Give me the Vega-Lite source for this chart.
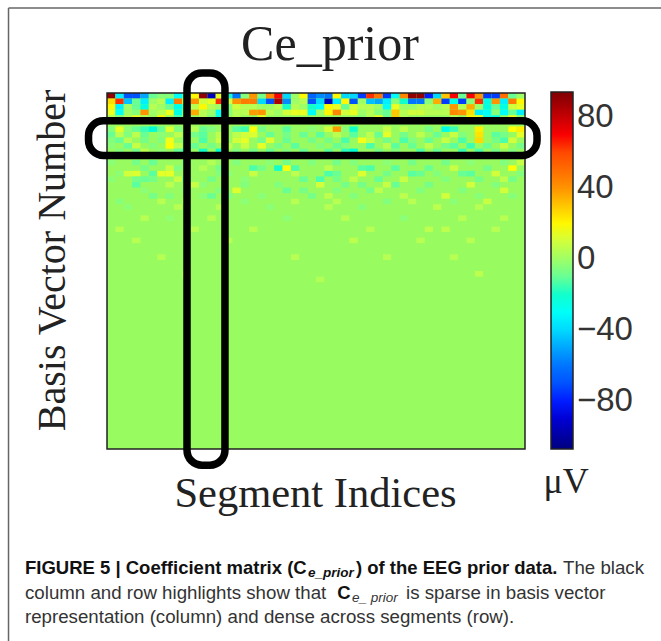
{"$schema":"https://vega.github.io/schema/vega-lite/v6.json","width":418,"height":356,"autosize":{"type":"none"},"padding":{"left":107,"top":93,"right":136,"bottom":192},"background":"white","view":{"fill":"#98fb5f","stroke":null},"datasets":{"cells":[
{"c":0,"r":0,"v":90},{"c":1,"r":0,"v":-35},{"c":2,"r":0,"v":-70},{"c":3,"r":0,"v":-70},{"c":4,"r":0,"v":-50},{"c":5,"r":0,"v":-10},{"c":6,"r":0,"v":-5},{"c":7,"r":0,"v":-5},{"c":8,"r":0,"v":-30},{"c":9,"r":0,"v":-15},{"c":10,"r":0,"v":20},{"c":11,"r":0,"v":90},{"c":12,"r":0,"v":-95},{"c":13,"r":0,"v":15},{"c":14,"r":0,"v":-20},{"c":15,"r":0,"v":-60},{"c":16,"r":0,"v":-5},{"c":17,"r":0,"v":40},{"c":18,"r":0,"v":-8},{"c":19,"r":0,"v":42},{"c":20,"r":0,"v":70},{"c":21,"r":0,"v":-40},{"c":22,"r":0,"v":0},{"c":23,"r":0,"v":20},{"c":24,"r":0,"v":-65},{"c":25,"r":0,"v":-55},{"c":26,"r":0,"v":-60},{"c":27,"r":0,"v":20},{"c":28,"r":0,"v":-40},{"c":29,"r":0,"v":-40},{"c":30,"r":0,"v":-75},{"c":31,"r":0,"v":65},{"c":32,"r":0,"v":48},{"c":33,"r":0,"v":-75},{"c":34,"r":0,"v":-30},{"c":35,"r":0,"v":42},{"c":36,"r":0,"v":90},{"c":37,"r":0,"v":90},{"c":38,"r":0,"v":-80},{"c":39,"r":0,"v":-40},{"c":40,"r":0,"v":30},{"c":41,"r":0,"v":70},{"c":42,"r":0,"v":-10},{"c":43,"r":0,"v":70},{"c":44,"r":0,"v":40},{"c":45,"r":0,"v":-75},{"c":46,"r":0,"v":-75},{"c":47,"r":0,"v":50},{"c":48,"r":0,"v":-10},{"c":49,"r":0,"v":0},
{"c":0,"r":1,"v":25},{"c":1,"r":1,"v":65},{"c":2,"r":1,"v":-45},{"c":3,"r":1,"v":-10},{"c":4,"r":1,"v":-35},{"c":5,"r":1,"v":0},{"c":6,"r":1,"v":5},{"c":7,"r":1,"v":-35},{"c":8,"r":1,"v":45},{"c":9,"r":1,"v":5},{"c":10,"r":1,"v":40},{"c":11,"r":1,"v":10},{"c":12,"r":1,"v":15},{"c":13,"r":1,"v":65},{"c":14,"r":1,"v":10},{"c":15,"r":1,"v":40},{"c":16,"r":1,"v":45},{"c":17,"r":1,"v":45},{"c":18,"r":1,"v":-40},{"c":19,"r":1,"v":-70},{"c":20,"r":1,"v":85},{"c":21,"r":1,"v":-55},{"c":22,"r":1,"v":0},{"c":23,"r":1,"v":5},{"c":24,"r":1,"v":-70},{"c":25,"r":1,"v":-40},{"c":26,"r":1,"v":-95},{"c":27,"r":1,"v":-35},{"c":28,"r":1,"v":20},{"c":29,"r":1,"v":-70},{"c":30,"r":1,"v":0},{"c":31,"r":1,"v":-45},{"c":32,"r":1,"v":-50},{"c":33,"r":1,"v":-35},{"c":34,"r":1,"v":-5},{"c":35,"r":1,"v":-20},{"c":36,"r":1,"v":-60},{"c":37,"r":1,"v":-60},{"c":38,"r":1,"v":-5},{"c":39,"r":1,"v":35},{"c":40,"r":1,"v":-75},{"c":41,"r":1,"v":-25},{"c":42,"r":1,"v":-75},{"c":43,"r":1,"v":-5},{"c":44,"r":1,"v":65},{"c":45,"r":1,"v":-25},{"c":46,"r":1,"v":40},{"c":47,"r":1,"v":-35},{"c":48,"r":1,"v":45},{"c":49,"r":1,"v":20},
{"c":0,"r":2,"v":20},{"c":1,"r":2,"v":-35},{"c":2,"r":2,"v":0},{"c":3,"r":2,"v":-10},{"c":4,"r":2,"v":-25},{"c":5,"r":2,"v":5},{"c":6,"r":2,"v":0},{"c":7,"r":2,"v":-10},{"c":8,"r":2,"v":-25},{"c":9,"r":2,"v":-15},{"c":10,"r":2,"v":5},{"c":11,"r":2,"v":20},{"c":12,"r":2,"v":5},{"c":13,"r":2,"v":0},{"c":14,"r":2,"v":-5},{"c":15,"r":2,"v":10},{"c":16,"r":2,"v":5},{"c":17,"r":2,"v":5},{"c":18,"r":2,"v":0},{"c":19,"r":2,"v":0},{"c":20,"r":2,"v":5},{"c":21,"r":2,"v":-20},{"c":22,"r":2,"v":5},{"c":23,"r":2,"v":0},{"c":24,"r":2,"v":-20},{"c":25,"r":2,"v":-30},{"c":26,"r":2,"v":20},{"c":27,"r":2,"v":15},{"c":28,"r":2,"v":-10},{"c":29,"r":2,"v":10},{"c":30,"r":2,"v":5},{"c":31,"r":2,"v":5},{"c":32,"r":2,"v":0},{"c":33,"r":2,"v":-30},{"c":34,"r":2,"v":15},{"c":35,"r":2,"v":0},{"c":36,"r":2,"v":0},{"c":37,"r":2,"v":5},{"c":38,"r":2,"v":5},{"c":39,"r":2,"v":0},{"c":40,"r":2,"v":5},{"c":41,"r":2,"v":40},{"c":42,"r":2,"v":5},{"c":43,"r":2,"v":35},{"c":44,"r":2,"v":0},{"c":45,"r":2,"v":-25},{"c":46,"r":2,"v":-10},{"c":47,"r":2,"v":-25},{"c":48,"r":2,"v":10},{"c":49,"r":2,"v":15},
{"c":0,"r":3,"v":15},{"c":1,"r":3,"v":-30},{"c":2,"r":3,"v":0},{"c":3,"r":3,"v":-5},{"c":4,"r":3,"v":40},{"c":5,"r":3,"v":0},{"c":6,"r":3,"v":5},{"c":7,"r":3,"v":15},{"c":8,"r":3,"v":-25},{"c":9,"r":3,"v":-5},{"c":10,"r":3,"v":35},{"c":11,"r":3,"v":5},{"c":12,"r":3,"v":0},{"c":13,"r":3,"v":-30},{"c":14,"r":3,"v":-5},{"c":15,"r":3,"v":5},{"c":16,"r":3,"v":5},{"c":17,"r":3,"v":38},{"c":18,"r":3,"v":40},{"c":19,"r":3,"v":5},{"c":20,"r":3,"v":0},{"c":21,"r":3,"v":10},{"c":22,"r":3,"v":15},{"c":23,"r":3,"v":15},{"c":24,"r":3,"v":-30},{"c":25,"r":3,"v":0},{"c":26,"r":3,"v":20},{"c":27,"r":3,"v":42},{"c":28,"r":3,"v":10},{"c":29,"r":3,"v":15},{"c":30,"r":3,"v":0},{"c":31,"r":3,"v":5},{"c":32,"r":3,"v":-5},{"c":33,"r":3,"v":-10},{"c":34,"r":3,"v":30},{"c":35,"r":3,"v":5},{"c":36,"r":3,"v":10},{"c":37,"r":3,"v":10},{"c":38,"r":3,"v":5},{"c":39,"r":3,"v":5},{"c":40,"r":3,"v":5},{"c":41,"r":3,"v":42},{"c":42,"r":3,"v":40},{"c":43,"r":3,"v":25},{"c":44,"r":3,"v":-35},{"c":45,"r":3,"v":-30},{"c":46,"r":3,"v":-5},{"c":47,"r":3,"v":-30},{"c":48,"r":3,"v":-10},{"c":49,"r":3,"v":-35},
{"c":0,"r":4,"v":5},{"c":1,"r":4,"v":-5},{"c":2,"r":4,"v":5},{"c":3,"r":4,"v":15},{"c":4,"r":4,"v":5},{"c":6,"r":4,"v":20},{"c":8,"r":4,"v":-15},{"c":11,"r":4,"v":5},{"c":12,"r":4,"v":-5},{"c":13,"r":4,"v":-25},{"c":15,"r":4,"v":5},{"c":18,"r":4,"v":15},{"c":30,"r":4,"v":-5},{"c":31,"r":4,"v":5},{"c":32,"r":4,"v":15},{"c":33,"r":4,"v":-10},{"c":34,"r":4,"v":30},{"c":35,"r":4,"v":5},{"c":41,"r":4,"v":5},{"c":43,"r":4,"v":20},{"c":44,"r":4,"v":15},{"c":45,"r":4,"v":-30},{"c":46,"r":4,"v":-25},{"c":48,"r":4,"v":15},{"c":49,"r":4,"v":-5},
{"c":0,"r":6,"v":-6},{"c":1,"r":6,"v":14},{"c":2,"r":6,"v":-4},{"c":3,"r":6,"v":-10},{"c":4,"r":6,"v":-16},{"c":5,"r":6,"v":-22},{"c":6,"r":6,"v":-10},{"c":7,"r":6,"v":12},{"c":8,"r":6,"v":-6},{"c":10,"r":6,"v":4},{"c":11,"r":6,"v":-10},{"c":12,"r":6,"v":-6},{"c":15,"r":6,"v":-12},{"c":16,"r":6,"v":-16},{"c":17,"r":6,"v":18},{"c":18,"r":6,"v":-8},{"c":21,"r":6,"v":-12},{"c":24,"r":6,"v":-4},{"c":26,"r":6,"v":10},{"c":27,"r":6,"v":38},{"c":28,"r":6,"v":-4},{"c":29,"r":6,"v":-20},{"c":33,"r":6,"v":8},{"c":35,"r":6,"v":6},{"c":38,"r":6,"v":-8},{"c":40,"r":6,"v":-26},{"c":41,"r":6,"v":-16},{"c":44,"r":6,"v":22},{"c":48,"r":6,"v":18},{"c":49,"r":6,"v":22},
{"c":0,"r":7,"v":-10},{"c":1,"r":7,"v":6},{"c":2,"r":7,"v":-6},{"c":3,"r":7,"v":6},{"c":4,"r":7,"v":-10},{"c":6,"r":7,"v":-4},{"c":8,"r":7,"v":6},{"c":10,"r":7,"v":-8},{"c":11,"r":7,"v":-12},{"c":13,"r":7,"v":6},{"c":15,"r":7,"v":6},{"c":16,"r":7,"v":10},{"c":17,"r":7,"v":12},{"c":19,"r":7,"v":-10},{"c":21,"r":7,"v":-8},{"c":23,"r":7,"v":-10},{"c":25,"r":7,"v":-12},{"c":27,"r":7,"v":6},{"c":29,"r":7,"v":-12},{"c":31,"r":7,"v":6},{"c":32,"r":7,"v":-10},{"c":33,"r":7,"v":14},{"c":35,"r":7,"v":-8},{"c":37,"r":7,"v":6},{"c":39,"r":7,"v":-10},{"c":41,"r":7,"v":8},{"c":42,"r":7,"v":-6},{"c":44,"r":7,"v":24},{"c":46,"r":7,"v":-12},{"c":47,"r":7,"v":-8},{"c":49,"r":7,"v":14},
{"c":0,"r":8,"v":-6},{"c":1,"r":8,"v":-10},{"c":2,"r":8,"v":5},{"c":4,"r":8,"v":-8},{"c":6,"r":8,"v":-6},{"c":7,"r":8,"v":16},{"c":9,"r":8,"v":-6},{"c":11,"r":8,"v":-14},{"c":13,"r":8,"v":8},{"c":15,"r":8,"v":10},{"c":16,"r":8,"v":14},{"c":18,"r":8,"v":-8},{"c":19,"r":8,"v":12},{"c":21,"r":8,"v":-10},{"c":24,"r":8,"v":-8},{"c":26,"r":8,"v":-8},{"c":28,"r":8,"v":-14},{"c":30,"r":8,"v":16},{"c":31,"r":8,"v":8},{"c":33,"r":8,"v":-8},{"c":35,"r":8,"v":-14},{"c":36,"r":8,"v":-6},{"c":38,"r":8,"v":-10},{"c":40,"r":8,"v":8},{"c":42,"r":8,"v":-14},{"c":44,"r":8,"v":26},{"c":46,"r":8,"v":-8},{"c":47,"r":8,"v":-14},{"c":48,"r":8,"v":10},
{"c":0,"r":9,"v":-4},{"c":2,"r":9,"v":-10},{"c":3,"r":9,"v":8},{"c":5,"r":9,"v":-6},{"c":7,"r":9,"v":18},{"c":8,"r":9,"v":6},{"c":10,"r":9,"v":-10},{"c":12,"r":9,"v":-8},{"c":14,"r":9,"v":6},{"c":16,"r":9,"v":8},{"c":18,"r":9,"v":14},{"c":20,"r":9,"v":-8},{"c":22,"r":9,"v":-12},{"c":25,"r":9,"v":-6},{"c":27,"r":9,"v":-10},{"c":28,"r":9,"v":-6},{"c":31,"r":9,"v":-14},{"c":33,"r":9,"v":6},{"c":34,"r":9,"v":-12},{"c":36,"r":9,"v":-10},{"c":38,"r":9,"v":6},{"c":40,"r":9,"v":-8},{"c":41,"r":9,"v":-12},{"c":43,"r":9,"v":-16},{"c":45,"r":9,"v":-10},{"c":47,"r":9,"v":8},{"c":49,"r":9,"v":-8},
{"c":1,"r":10,"v":-6},{"c":3,"r":10,"v":-8},{"c":4,"r":10,"v":6},{"c":6,"r":10,"v":-4},{"c":8,"r":10,"v":-10},{"c":9,"r":10,"v":-18},{"c":11,"r":10,"v":-20},{"c":13,"r":10,"v":-22},{"c":15,"r":10,"v":-6},{"c":17,"r":10,"v":-8},{"c":19,"r":10,"v":-10},{"c":21,"r":10,"v":-6},{"c":23,"r":10,"v":-10},{"c":26,"r":10,"v":-12},{"c":28,"r":10,"v":-18},{"c":29,"r":10,"v":-22},{"c":32,"r":10,"v":-8},{"c":34,"r":10,"v":-6},{"c":37,"r":10,"v":-14},{"c":39,"r":10,"v":-10},{"c":42,"r":10,"v":-16},{"c":44,"r":10,"v":-14},{"c":46,"r":10,"v":-8},{"c":48,"r":10,"v":-6},
{"c":0,"r":12,"v":-4},{"c":3,"r":12,"v":-8},{"c":5,"r":12,"v":-10},{"c":9,"r":12,"v":-8},{"c":12,"r":12,"v":4},{"c":15,"r":12,"v":-6},{"c":19,"r":12,"v":-4},{"c":21,"r":12,"v":-8},{"c":24,"r":12,"v":-6},{"c":27,"r":12,"v":-8},{"c":29,"r":12,"v":-6},{"c":33,"r":12,"v":-4},{"c":36,"r":12,"v":-8},{"c":40,"r":12,"v":-8},{"c":43,"r":12,"v":-4},{"c":47,"r":12,"v":-6},{"c":49,"r":12,"v":8},
{"c":4,"r":13,"v":-8},{"c":7,"r":13,"v":8},{"c":8,"r":13,"v":-6},{"c":11,"r":13,"v":4},{"c":13,"r":13,"v":-8},{"c":17,"r":13,"v":-14},{"c":18,"r":13,"v":-8},{"c":20,"r":13,"v":-20},{"c":21,"r":13,"v":18},{"c":22,"r":13,"v":-14},{"c":26,"r":13,"v":6},{"c":30,"r":13,"v":-12},{"c":31,"r":13,"v":-14},{"c":34,"r":13,"v":-12},{"c":38,"r":13,"v":-10},{"c":41,"r":13,"v":8},{"c":45,"r":13,"v":-8},{"c":48,"r":13,"v":18},
{"c":1,"r":14,"v":-4},{"c":2,"r":14,"v":10},{"c":3,"r":14,"v":12},{"c":5,"r":14,"v":-12},{"c":6,"r":14,"v":14},{"c":7,"r":14,"v":14},{"c":13,"r":14,"v":-6},{"c":14,"r":14,"v":-4},{"c":17,"r":14,"v":8},{"c":22,"r":14,"v":6},{"c":26,"r":14,"v":-14},{"c":27,"r":14,"v":-10},{"c":30,"r":14,"v":12},{"c":33,"r":14,"v":-8},{"c":36,"r":14,"v":-12},{"c":37,"r":14,"v":-10},{"c":39,"r":14,"v":-6},{"c":42,"r":14,"v":-10},{"c":43,"r":14,"v":-12},{"c":46,"r":14,"v":10},{"c":49,"r":14,"v":-6},
{"c":0,"r":15,"v":-4},{"c":3,"r":15,"v":-8},{"c":4,"r":15,"v":-10},{"c":5,"r":15,"v":-8},{"c":8,"r":15,"v":8},{"c":9,"r":15,"v":-10},{"c":12,"r":15,"v":-8},{"c":16,"r":15,"v":-4},{"c":23,"r":15,"v":-10},{"c":25,"r":15,"v":-14},{"c":27,"r":15,"v":-8},{"c":29,"r":15,"v":6},{"c":32,"r":15,"v":-10},{"c":35,"r":15,"v":8},{"c":40,"r":15,"v":-6},{"c":44,"r":15,"v":-8},{"c":47,"r":15,"v":6},{"c":48,"r":15,"v":-8},
{"c":3,"r":16,"v":-12},{"c":7,"r":16,"v":6},{"c":10,"r":16,"v":8},{"c":11,"r":16,"v":-4},{"c":16,"r":16,"v":-6},{"c":20,"r":16,"v":-6},{"c":25,"r":16,"v":10},{"c":28,"r":16,"v":-8},{"c":30,"r":16,"v":-8},{"c":33,"r":16,"v":8},{"c":34,"r":16,"v":-10},{"c":38,"r":16,"v":-8},{"c":43,"r":16,"v":10},{"c":46,"r":16,"v":-6},
{"c":4,"r":17,"v":-4},{"c":9,"r":17,"v":-4},{"c":13,"r":17,"v":-6},{"c":15,"r":17,"v":12},{"c":21,"r":17,"v":-10},{"c":23,"r":17,"v":-8},{"c":27,"r":17,"v":-6},{"c":31,"r":17,"v":-8},{"c":32,"r":17,"v":6},{"c":37,"r":17,"v":-6},{"c":42,"r":17,"v":-6},{"c":47,"r":17,"v":10},
{"c":5,"r":18,"v":-8},{"c":7,"r":18,"v":-6},{"c":11,"r":18,"v":-4},{"c":12,"r":18,"v":-10},{"c":14,"r":18,"v":-6},{"c":18,"r":18,"v":-4},{"c":24,"r":18,"v":-8},{"c":26,"r":18,"v":6},{"c":29,"r":18,"v":-6},{"c":35,"r":18,"v":6},{"c":40,"r":18,"v":10},{"c":44,"r":18,"v":-5},{"c":48,"r":18,"v":-5},
{"c":1,"r":19,"v":-5},{"c":6,"r":19,"v":5},{"c":9,"r":19,"v":5},{"c":16,"r":19,"v":-4},{"c":22,"r":19,"v":5},{"c":27,"r":19,"v":5},{"c":33,"r":19,"v":-6},{"c":36,"r":19,"v":5},{"c":41,"r":19,"v":-4},{"c":45,"r":19,"v":8},
{"c":2,"r":20,"v":-4},{"c":8,"r":20,"v":5},{"c":13,"r":20,"v":5},{"c":19,"r":20,"v":-4},{"c":26,"r":20,"v":5},{"c":30,"r":20,"v":-5},{"c":39,"r":20,"v":6},{"c":44,"r":20,"v":5},
{"c":4,"r":22,"v":5},{"c":7,"r":22,"v":-3},{"c":12,"r":22,"v":5},{"c":21,"r":22,"v":-4},{"c":28,"r":22,"v":5},{"c":35,"r":22,"v":-4},{"c":42,"r":22,"v":5},{"c":47,"r":22,"v":5},
{"c":1,"r":24,"v":5},{"c":10,"r":24,"v":5},{"c":17,"r":24,"v":5},{"c":31,"r":24,"v":5},{"c":38,"r":24,"v":6},{"c":40,"r":24,"v":6},{"c":46,"r":24,"v":5},
{"c":3,"r":26,"v":5},{"c":14,"r":26,"v":5},{"c":29,"r":26,"v":6},{"c":37,"r":26,"v":5},{"c":43,"r":26,"v":5},
{"c":6,"r":29,"v":5},{"c":22,"r":29,"v":5},{"c":33,"r":29,"v":5},{"c":41,"r":29,"v":5},{"c":44,"r":32,"v":6},{"c":9,"r":32,"v":4},{"c":25,"r":33,"v":4}
],"boxes":[{"x":-2.21,"x2":51.44,"y":4.98,"y2":11.24},{"x":9.57,"x2":14.11,"y":-3.6,"y2":66.9}],
"frame":[{"x":0,"x2":50,"y":0,"y2":64}],
"border":[{"x":-11.78,"x2":66.3,"y":-15.28,"y2":-15.28},{"x":-11.78,"x2":-11.78,"y":-15.28,"y2":98.5}],
"ticks":[{"v":-100,"a":53.11,"b":53.7},{"v":-80,"a":53.11,"b":53.7},{"v":-60,"a":53.11,"b":53.7},{"v":-40,"a":53.11,"b":53.7},{"v":-20,"a":53.11,"b":53.7},{"v":0,"a":53.11,"b":53.7},{"v":20,"a":53.11,"b":53.7},{"v":40,"a":53.11,"b":53.7},{"v":60,"a":53.11,"b":53.7},{"v":80,"a":53.11,"b":53.7},{"v":-100,"a":55.2,"b":55.74},{"v":-80,"a":55.2,"b":55.74},{"v":-60,"a":55.2,"b":55.74},{"v":-40,"a":55.2,"b":55.74},{"v":-20,"a":55.2,"b":55.74},{"v":0,"a":55.2,"b":55.74},{"v":20,"a":55.2,"b":55.74},{"v":40,"a":55.2,"b":55.74},{"v":60,"a":55.2,"b":55.74},{"v":80,"a":55.2,"b":55.74}]},
"layer":[
{"data":{"name":"cells"},"mark":{"type":"rect","stroke":null},"encoding":{
"x":{"field":"c","type":"ordinal","title":"Segment Indices","scale":{"domain":[0,1,2,3,4,5,6,7,8,9,10,11,12,13,14,15,16,17,18,19,20,21,22,23,24,25,26,27,28,29,30,31,32,33,34,35,36,37,38,39,40,41,42,43,44,45,46,47,48,49],"paddingInner":0,"paddingOuter":0},"axis":{"labels":false,"ticks":false,"domain":false,"grid":false,"orient":"bottom","title":"Segment Indices","titleFont":"Liberation Serif","titleFontSize":42.5,"titleFontWeight":"normal","titleColor":"#222","titlePadding":23,"titleX":208}},
"y":{"field":"r","type":"ordinal","scale":{"domain":[0,1,2,3,4,5,6,7,8,9,10,11,12,13,14,15,16,17,18,19,20,21,22,23,24,25,26,27,28,29,30,31,32,33,34,35,36,37,38,39,40,41,42,43,44,45,46,47,48,49,50,51,52,53,54,55,56,57,58,59,60,61,62,63],"paddingInner":0,"paddingOuter":0},"axis":{"labels":false,"ticks":false,"domain":false,"grid":false,"title":"Basis Vector Number","titleFont":"Liberation Serif","titleFontSize":40,"titleFontWeight":"normal","titleColor":"#222","titlePadding":35,"titleY":167}},
"color":{"field":"v","type":"quantitative","scale":{"domain":[-107,-81.875,-56.75,-31.625,-6.5,18.625,43.75,68.875,94],"range":["#00007f","#0000ff","#007fff","#00ffff","#7fff7f","#ffff00","#ff7f00","#ff0000","#7f0000"]},"legend":{"orient":"none","legendX":444,"legendY":-1,"direction":"vertical","title":null,"gradientLength":357,"gradientThickness":22,"gradientStrokeColor":"#222","gradientStrokeWidth":1.5,"values":[-80,-40,0,40,80],"labelFont":"Liberation Sans","labelFontSize":33,"labelColor":"#333","labelOffset":4,"labelOverlap":false}}}},
{"data":{"name":"frame"},"mark":{"type":"rect","fill":null,"stroke":"#222","strokeWidth":1.5,"clip":false},"encoding":{"x":{"field":"x","type":"quantitative","scale":{"domain":[0,50]},"axis":null},"x2":{"field":"x2"},"y":{"field":"y","type":"quantitative","scale":{"domain":[0,64],"reverse":true},"axis":null},"y2":{"field":"y2"}}},
{"data":{"name":"boxes"},"mark":{"type":"rect","fill":null,"stroke":"#000","strokeWidth":7.5,"cornerRadius":15,"clip":false},"encoding":{"x":{"field":"x","type":"quantitative","scale":{"domain":[0,50]},"axis":null},"x2":{"field":"x2"},"y":{"field":"y","type":"quantitative","scale":{"domain":[0,64],"reverse":true},"axis":null},"y2":{"field":"y2"}}},
{"data":{"name":"border"},"mark":{"type":"rule","stroke":"#666","strokeWidth":1.5,"clip":false},"encoding":{"x":{"field":"x","type":"quantitative","scale":{"domain":[0,50]},"axis":null},"x2":{"field":"x2"},"y":{"field":"y","type":"quantitative","scale":{"domain":[0,64],"reverse":true},"axis":null},"y2":{"field":"y2"}}},
{"data":{"name":"ticks"},"mark":{"type":"rule","stroke":"#222","strokeWidth":1.5,"clip":false},"encoding":{"x":{"field":"a","type":"quantitative","scale":{"domain":[0,50]},"axis":null},"x2":{"field":"b"},"y":{"field":"v","type":"quantitative","scale":{"domain":[-107,94]},"axis":null}}},
{"data":{"values":[{"x":26.67,"y":-5.93,"t":"Ce_prior"}]},"mark":{"type":"text","font":"Liberation Serif","fontSize":50,"align":"center","baseline":"alphabetic","color":"#222"},"encoding":{"x":{"field":"x","type":"quantitative","scale":{"domain":[0,50]},"axis":null},"y":{"field":"y","type":"quantitative","scale":{"domain":[0,64],"reverse":true},"axis":null},"text":{"field":"t"}}},
{"data":{"values":[{"x":52.2,"y":71.9,"t":"μV"}]},"mark":{"type":"text","font":"Liberation Serif","fontSize":36,"align":"left","baseline":"alphabetic","color":"#222"},"encoding":{"x":{"field":"x","type":"quantitative","scale":{"domain":[0,50]},"axis":null},"y":{"field":"y","type":"quantitative","scale":{"domain":[0,64],"reverse":true},"axis":null},"text":{"field":"t"}}},
{"data":{"values":[{"x":-9.81,"y":86.47,"t":"FIGURE 5 | Coefficient matrix (C"},{"x":29.78,"y":86.47,"t":") of the EEG prior data."},{"x":27.55,"y":90.97,"t":"C"}]},"mark":{"type":"text","font":"Liberation Sans","fontSize":18.5,"fontWeight":"bold","align":"left","baseline":"alphabetic","color":"#111"},"encoding":{"x":{"field":"x","type":"quantitative","scale":{"domain":[0,50]},"axis":null},"y":{"field":"y","type":"quantitative","scale":{"domain":[0,64],"reverse":true},"axis":null},"text":{"field":"t"}}},
{"data":{"values":[{"x":24.04,"y":86.97,"t":"e_prior"}]},"mark":{"type":"text","font":"Liberation Sans","fontSize":13.5,"fontWeight":"bold","fontStyle":"italic","align":"left","baseline":"alphabetic","color":"#111"},"encoding":{"x":{"field":"x","type":"quantitative","scale":{"domain":[0,50]},"axis":null},"y":{"field":"y","type":"quantitative","scale":{"domain":[0,64],"reverse":true},"axis":null},"text":{"field":"t"}}},
{"data":{"values":[{"x":29.3,"y":91.47,"t":"e_ prior"}]},"mark":{"type":"text","font":"Liberation Sans","fontSize":13.5,"fontStyle":"italic","align":"left","baseline":"alphabetic","color":"#333"},"encoding":{"x":{"field":"x","type":"quantitative","scale":{"domain":[0,50]},"axis":null},"y":{"field":"y","type":"quantitative","scale":{"domain":[0,64],"reverse":true},"axis":null},"text":{"field":"t"}}},
{"data":{"values":[{"x":54.55,"y":86.47,"t":"The black"},{"x":-9.81,"y":90.97,"t":"column and row highlights show that"},{"x":35.77,"y":90.97,"t":"is sparse in basis vector"},{"x":-9.81,"y":95.3,"t":"representation (column) and dense across segments (row)."}]},"mark":{"type":"text","font":"Liberation Sans","fontSize":18.7,"align":"left","baseline":"alphabetic","color":"#333"},"encoding":{"x":{"field":"x","type":"quantitative","scale":{"domain":[0,50]},"axis":null},"y":{"field":"y","type":"quantitative","scale":{"domain":[0,64],"reverse":true},"axis":null},"text":{"field":"t"}}}
],"resolve":{"scale":{"x":"independent","y":"independent"},"axis":{"x":"independent","y":"independent"}}}
